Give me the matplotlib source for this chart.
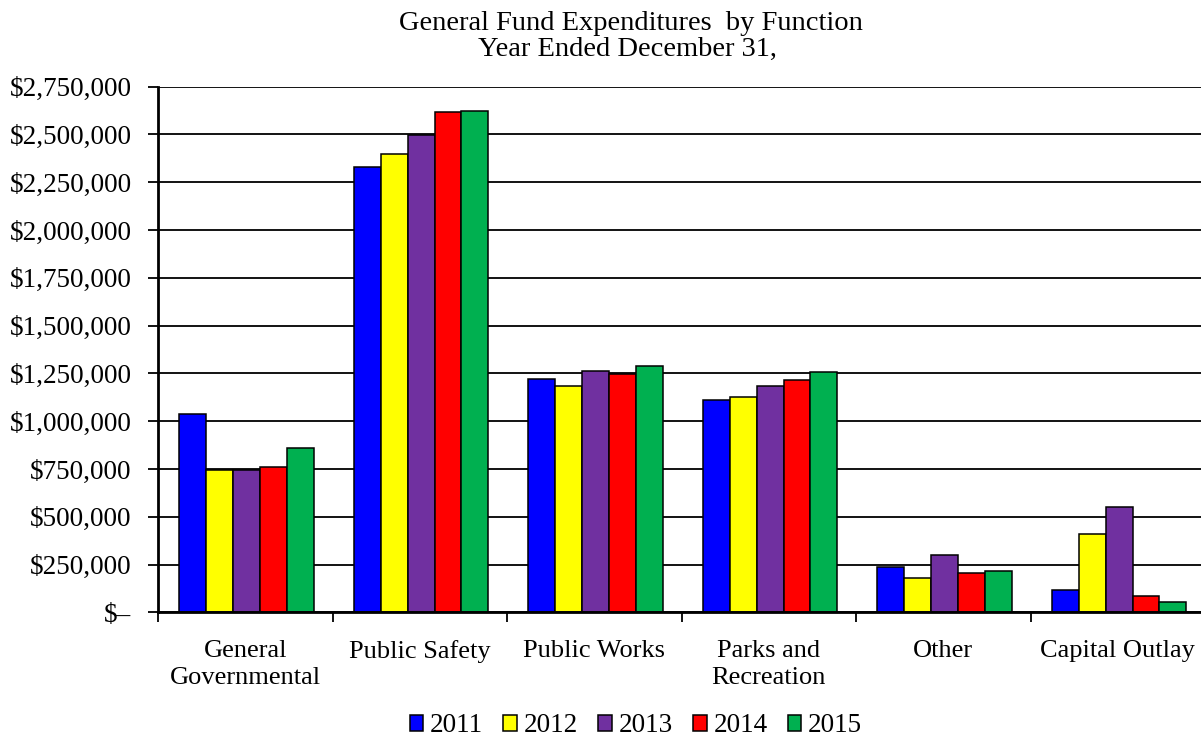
import matplotlib
matplotlib.use("Agg")
import matplotlib.pyplot as plt
import numpy as np
from matplotlib.ticker import FuncFormatter, FixedLocator

categories = ["General\nGovernmental", "Public Safety", "Public Works",
              "Parks and\nRecreation", "Other", "Capital Outlay"]
years = ["2011", "2012", "2013", "2014", "2015"]
v2011 = [1035000, 2330000, 1220000, 1109000, 238000, 115000]
v2012 = [743000, 2398000, 1183000, 1126000, 179000, 408000]
v2013 = [744000, 2496000, 1260000, 1185000, 298000, 551000]
v2014 = [758000, 2617000, 1245000, 1216000, 207000, 87000]
v2015 = [858000, 2623000, 1287000, 1258000, 214000, 55000]
series = [v2011, v2012, v2013, v2014, v2015]
colors = ["#0000FF", "#FFFF00", "#7030A0", "#FF0000", "#00B050"]

plt.rcParams['font.family'] = ['Liberation Serif', 'DejaVu Serif']

fig = plt.figure(figsize=(12.01, 7.38), dpi=100)
ax = fig.add_axes([158/1201, 1-612.3/738, 1047/1201, (612.3-86.7)/738])

x = np.arange(len(categories))
w = 0.154
for j, (vals, c, yr) in enumerate(zip(series, colors, years)):
    ax.bar(x + (j-2)*w + 0.008, vals, width=w, color=c, edgecolor='black',
           linewidth=1.1, label=yr, zorder=3)

ax.set_xlim(-0.5, len(categories)-0.5)
ax.set_ylim(0, 2750000)
ax.set_yticks(np.arange(0, 2750001, 250000))
ax.yaxis.grid(True, color='black', linewidth=1.3, zorder=0)
ax.set_axisbelow(True)

def fmt(v, pos):
    if v == 0:
        return "$\u2013"
    return "${:,.0f}".format(v)
ax.yaxis.set_major_formatter(FuncFormatter(fmt))

ax.xaxis.set_major_locator(FixedLocator(np.arange(-0.5, len(categories), 1.0)))
ax.xaxis.set_major_formatter(FuncFormatter(lambda v, p: ""))
ax.xaxis.set_minor_locator(FixedLocator(x))
ax.set_xticklabels(categories, minor=True)
ax.tick_params(axis='x', which='minor', length=0, labelsize=19, pad=20)
ax.tick_params(axis='x', which='major', length=7, width=1.3, direction='out')
ax.tick_params(axis='y', length=7, width=1.3, labelsize=19.5, pad=12)
for lbl in ax.get_xticklabels(minor=True):
    lbl.set_linespacing(1.3)

for s in ['top', 'right']:
    ax.spines[s].set_visible(False)
for s in ['left', 'bottom']:
    ax.spines[s].set_linewidth(2)
    ax.spines[s].set_zorder(4)

fig.text(631/1201, 1-24/738, "General Fund Expenditures  by Function",
         ha='center', va='center', fontsize=20.5)
fig.text(627/1201, 1-49/738, "Year Ended December 31,",
         ha='center', va='center', fontsize=20.5)

leg = fig.legend(loc='center', bbox_to_anchor=(636/1201, 1-726/738), ncol=5,
                 frameon=False, fontsize=19.5, handlelength=0.5, handleheight=0.5,
                 handletextpad=0.25, columnspacing=0.75, borderaxespad=0,
                 borderpad=0)

fig.savefig("out.png", dpi=100)
